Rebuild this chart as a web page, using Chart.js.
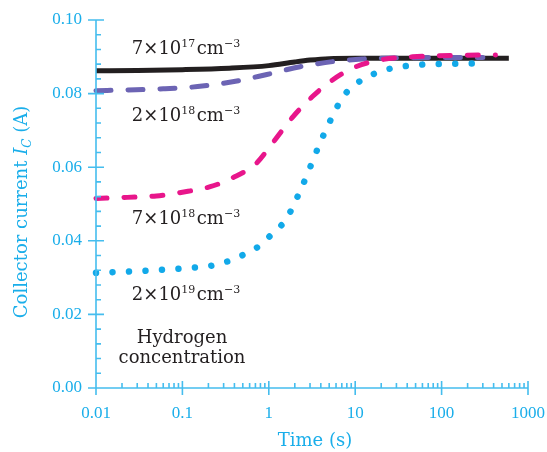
<!DOCTYPE html>
<html><head><meta charset="utf-8">
<script src="https://cdn.jsdelivr.net/npm/chart.js@4.4.0/dist/chart.umd.min.js"></script>
<style>html,body{margin:0;padding:0;background:#fff}</style>
</head><body>
<canvas id="c" width="547" height="452"></canvas>
<script>
// ---- data ----
const xTickValues = [0.01, 0.1, 1, 10, 100, 1000];
const xTickLabels = ['0.01', '0.1', '1', '10', '100', '1000'];
const yTickValues = [0, 0.02, 0.04, 0.06, 0.08, 0.10];
const yTickLabels = ['0.00', '0.02', '0.04', '0.06', '0.08', '0.10'];

const t7e17 = [0.01, 0.03, 0.1, 0.35, 1, 2, 3, 5, 10, 30, 100, 300, 600];
const i7e17 = [0.0862, 0.0863, 0.0865, 0.0869, 0.0876, 0.0886, 0.0891, 0.0895, 0.0896, 0.0896, 0.0896, 0.0896, 0.0896];

const t2e18 = [0.01, 0.023, 0.06, 0.15, 0.38, 0.95, 2.3, 5.5, 12, 30, 100, 300];
const i2e18 = [0.0808, 0.0810, 0.0813, 0.0819, 0.0832, 0.0852, 0.0873, 0.0887, 0.0894, 0.0897, 0.0898, 0.0898];

const t7e18 = [0.01, 0.023, 0.05, 0.1, 0.21, 0.38, 0.72, 1.1, 1.9, 3.2, 5.1, 9.3, 19, 46, 150, 420];
const i7e18 = [0.0515, 0.0518, 0.0522, 0.0532, 0.0547, 0.0571, 0.0611, 0.0665, 0.0737, 0.0792, 0.0832, 0.0869, 0.0891, 0.0900, 0.0904, 0.0905];

const t2e19 = [0.01, 0.04, 0.1, 0.24, 0.37, 0.55, 0.82, 1.1, 1.56, 2.33, 3.3, 3.9, 5.8, 7.1, 9.8, 14.6, 22, 34, 52, 82, 130, 310];
const i2e19 = [0.0313, 0.0319, 0.0325, 0.0334, 0.0348, 0.0366, 0.0390, 0.0420, 0.0456, 0.0538, 0.0623, 0.0665, 0.0751, 0.0789, 0.0823, 0.0848, 0.0864, 0.0873, 0.0878, 0.0880, 0.0881, 0.0882];

// annotation texts (anchor in data coordinates)
const labelTexts = [
  {t: 0.026, v: 0.0908, parts: [['7×10', 0], ['17', 1], ['cm', 0], ['−3', 1]]},
  {t: 0.026, v: 0.0726, parts: [['2×10', 0], ['18', 1], ['cm', 0], ['−3', 1]]},
  {t: 0.026, v: 0.0446, parts: [['7×10', 0], ['18', 1], ['cm', 0], ['−3', 1]]},
  {t: 0.026, v: 0.0239, parts: [['2×10', 0], ['19', 1], ['cm', 0], ['−3', 1]]}
];
const noteLines = ['Hydrogen', 'concentration'];
const noteT = 0.099, noteV = [0.0122, 0.0068];

// ---- styles ----
const CYAN_TEXT = '#1aaeea';
const CYAN_AXIS = '#45bdee';
const SERIF = '"DejaVu Serif", serif';
const TICKFONT = '"Liberation Serif", serif';

function pts(ts, is) { return ts.map((t, k) => ({x: t, y: is[k]})); }

const axisPlugin = {
  id: 'axisDecor',
  afterDraw(chart) {
    const ctx = chart.ctx, xs = chart.scales.x, ys = chart.scales.y;
    const x0 = xs.getPixelForValue(0.01), x1 = xs.getPixelForValue(1000);
    const y0 = ys.getPixelForValue(0), y1 = ys.getPixelForValue(0.1);
    ctx.save();
    ctx.strokeStyle = CYAN_AXIS;
    ctx.lineWidth = 1.6;
    ctx.beginPath();
    ctx.moveTo(x0, y1); ctx.lineTo(x0, y0); ctx.lineTo(x1, y0);
    // y ticks
    for (let k = 0; k <= 25; k++) {
      const v = k * 0.004, py = ys.getPixelForValue(v);
      if (k % 5 === 0) { ctx.moveTo(x0 - 8, py); ctx.lineTo(x0 + 8, py); }
      else { ctx.moveTo(x0, py); ctx.lineTo(x0 + 5, py); }
    }
    // x ticks
    for (let d = -2; d <= 3; d++) {
      const px = xs.getPixelForValue(Math.pow(10, d));
      ctx.moveTo(px, y0 - 7); ctx.lineTo(px, y0 + 7);
      if (d < 3) for (let m = 2; m <= 9; m++) {
        const pm = xs.getPixelForValue(m * Math.pow(10, d));
        ctx.moveTo(pm, y0); ctx.lineTo(pm, y0 - 5);
      }
    }
    ctx.stroke();

    // axis titles
    ctx.fillStyle = CYAN_TEXT;
    ctx.textBaseline = 'alphabetic';
    ctx.font = '18px ' + SERIF;
    ctx.textAlign = 'center';
    ctx.fillText('Time (s)', (x0 + x1) / 2 + 3, 446);

    ctx.save();
    ctx.translate(27, 212);
    ctx.rotate(-Math.PI / 2);
    const seg = [['Collector current ', '18px ' + SERIF, 0], ['I', 'italic 18px ' + SERIF, 0], ['C', 'italic 12px ' + SERIF, 4], [' (A)', '18px ' + SERIF, 0]];
    let w = 0;
    seg.forEach(s => { ctx.font = s[1]; w += ctx.measureText(s[0]).width; });
    let cx = -w / 2;
    ctx.textAlign = 'left';
    seg.forEach(s => { ctx.font = s[1]; ctx.fillText(s[0], cx, s[2]); cx += ctx.measureText(s[0]).width; });
    ctx.restore();

    // annotations
    ctx.fillStyle = '#231f20';
    ctx.textAlign = 'left';
    labelTexts.forEach(L => {
      let px = xs.getPixelForValue(L.t);
      const py = ys.getPixelForValue(L.v);
      L.parts.forEach((p, k) => {
        ctx.font = p[1] ? '11px ' + SERIF : '18px ' + SERIF;
        if (k === 2) px += 1.5;
        ctx.fillText(p[0], px, p[1] ? py - 7 : py);
        px += ctx.measureText(p[0]).width;
      });
    });
    ctx.font = '18px ' + SERIF;
    ctx.textAlign = 'center';
    noteLines.forEach((s, k) => {
      ctx.fillText(s, xs.getPixelForValue(noteT), ys.getPixelForValue(noteV[k]));
    });
    ctx.restore();
  }
};

new Chart(document.getElementById('c'), {
  type: 'line',
  data: {
    datasets: [
      {label: '7e18', data: pts(t7e18, i7e18), borderColor: '#e8168b', borderWidth: 5, borderDash: [11, 17], borderCapStyle: 'round'},
      {label: '2e19', data: pts(t2e19, i2e19), borderColor: '#12a9e9', borderWidth: 6.5, borderDash: [0.01, 16.5], borderCapStyle: 'round'},
      {label: '2e18', data: pts(t2e18, i2e18), borderColor: '#6c64b4', borderWidth: 5, borderDash: [15, 17], borderCapStyle: 'round'},
      {label: '7e17', data: pts(t7e17, i7e17), borderColor: '#231f20', borderWidth: 5, borderCapStyle: 'butt'}
    ]
  },
  options: {
    responsive: false,
    devicePixelRatio: 1,
    animation: false,
    clip: false,
    layout: {padding: {left: 0, right: 19, top: 20, bottom: 0}},
    elements: {point: {radius: 0}, line: {cubicInterpolationMode: 'monotone', fill: false}},
    plugins: {legend: {display: false}, tooltip: {enabled: false}},
    scales: {
      x: {
        type: 'logarithmic', min: 0.01, max: 1000,
        grid: {display: false, drawTicks: false}, border: {display: false},
        afterFit: s => { s.height = 64; s.paddingLeft = 0; s.paddingRight = 0; },
        afterBuildTicks: s => { s.ticks = xTickValues.map(v => ({value: v})); },
        ticks: {
          autoSkip: false, maxRotation: 0, padding: 15,
          color: CYAN_TEXT, font: {family: TICKFONT, size: 17},
          callback: (v) => { const k = xTickValues.indexOf(v); return k >= 0 ? xTickLabels[k] : ''; }
        }
      },
      y: {
        type: 'linear', min: 0, max: 0.1,
        grid: {display: false, drawTicks: false}, border: {display: false},
        afterFit: s => { s.width = 96; s.paddingTop = 0; s.paddingBottom = 0; },
        afterBuildTicks: s => { s.ticks = yTickValues.map(v => ({value: v})); },
        ticks: {
          autoSkip: false, padding: 14,
          color: CYAN_TEXT, font: {family: TICKFONT, size: 17},
          callback: (v, k) => yTickLabels[k]
        }
      }
    }
  },
  plugins: [axisPlugin]
});
</script>
</body></html>
